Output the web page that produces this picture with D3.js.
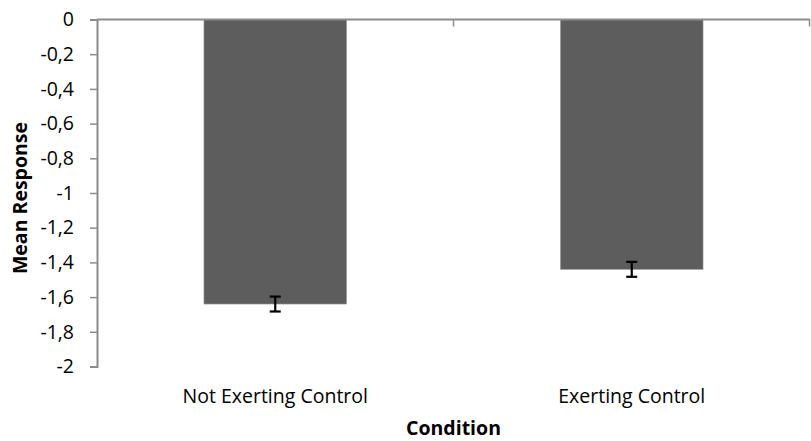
<!DOCTYPE html>
<html><head><meta charset="utf-8">
<script src="https://cdn.jsdelivr.net/npm/d3@7"></script>
<style>body{margin:0;background:#fff;} svg{display:block;} text{font-family:"Open Sans",sans-serif;}</style>
</head><body>
<svg id="chart" width="811" height="441"></svg>
<script>
const categories = ["Not Exerting Control", "Exerting Control"];
const means = [-1.64, -1.44];
const errors = [0.043, 0.043];
const yTicks = [0, -0.2, -0.4, -0.6, -0.8, -1, -1.2, -1.4, -1.6, -1.8, -2];
const xTitle = "Condition";
const yTitle = "Mean Response";

const svg = d3.select("#chart");
const m = {left: 97, right: 1, top: 19.5, bottom: 74.5};
const W = 811, H = 441;
const xb = d3.scaleBand().domain(categories).range([m.left, W - m.right]);
const y = d3.scaleLinear().domain([-2, 0]).range([H - m.bottom, m.top]);
const axisColor = "#8c8c8c";
const fs = "19.5px";

// bars
svg.append("g").selectAll("rect").data(categories).join("rect")
  .attr("x", d => xb(d) + xb.bandwidth()*0.3)
  .attr("width", xb.bandwidth()*0.4)
  .attr("y", y(0))
  .attr("height", (d,i) => y(means[i]) - y(0))
  .attr("fill", "#5d5d5d")
  .attr("stroke", "#9a9a9a").attr("stroke-width", 0.6);

// y axis
const yAxis = d3.axisLeft(y).tickValues(yTicks).tickSize(7).tickPadding(16)
  .tickFormat(d => String(d).replace(".", ","));
const gy = svg.append("g").attr("transform", `translate(${m.left},0)`).call(yAxis);
gy.select(".domain").attr("stroke", axisColor).attr("stroke-width", 2);
gy.selectAll(".tick line").attr("stroke", axisColor).attr("stroke-width", 1.5);
gy.selectAll(".tick text").attr("fill", "#000").style("font-size", fs).style("font-family", "'Open Sans', sans-serif");

// x axis at top (y=0) with boundary ticks
const gx = svg.append("g");
gx.append("line").attr("x1", m.left).attr("x2", W - m.right).attr("y1", y(0)).attr("y2", y(0))
  .attr("stroke", axisColor).attr("stroke-width", 2);
const bounds = [xb(categories[1]), xb(categories[1]) + xb.bandwidth()];
gx.selectAll("line.bt").data(bounds).join("line").attr("class","bt")
  .attr("x1", d => Math.min(d, W-1.5)).attr("x2", d => Math.min(d, W-1.5))
  .attr("y1", y(0)).attr("y2", y(0) + 7)
  .attr("stroke", axisColor).attr("stroke-width", 1.5);

// category labels
svg.append("g").selectAll("text").data(categories).join("text")
  .attr("x", d => xb(d) + xb.bandwidth()/2)
  .attr("y", 403)
  .attr("text-anchor", "middle")
  .style("font-size", fs)
  .text(d => d);

// error bars
const eg = svg.append("g").attr("stroke", "#000").attr("stroke-width", 2.2);
categories.forEach((c, i) => {
  const cx = xb(c) + xb.bandwidth()/2;
  const y1 = y(means[i] + errors[i]), y2 = y(means[i] - errors[i]);
  eg.append("line").attr("x1", cx).attr("x2", cx).attr("y1", y1).attr("y2", y2);
  eg.append("line").attr("x1", cx-5.5).attr("x2", cx+5.5).attr("y1", y1).attr("y2", y1);
  eg.append("line").attr("x1", cx-5.5).attr("x2", cx+5.5).attr("y1", y2).attr("y2", y2);
});

// titles
svg.append("text").attr("x", (m.left + W - m.right)/2).attr("y", 435)
  .attr("text-anchor", "middle").style("font-size", fs).style("font-weight", "bold").text(xTitle);
svg.append("text").attr("transform", `translate(27,198) rotate(-90)`)
  .attr("text-anchor", "middle").style("font-size", fs).style("font-weight", "bold").text(yTitle);
</script>
</body></html>
